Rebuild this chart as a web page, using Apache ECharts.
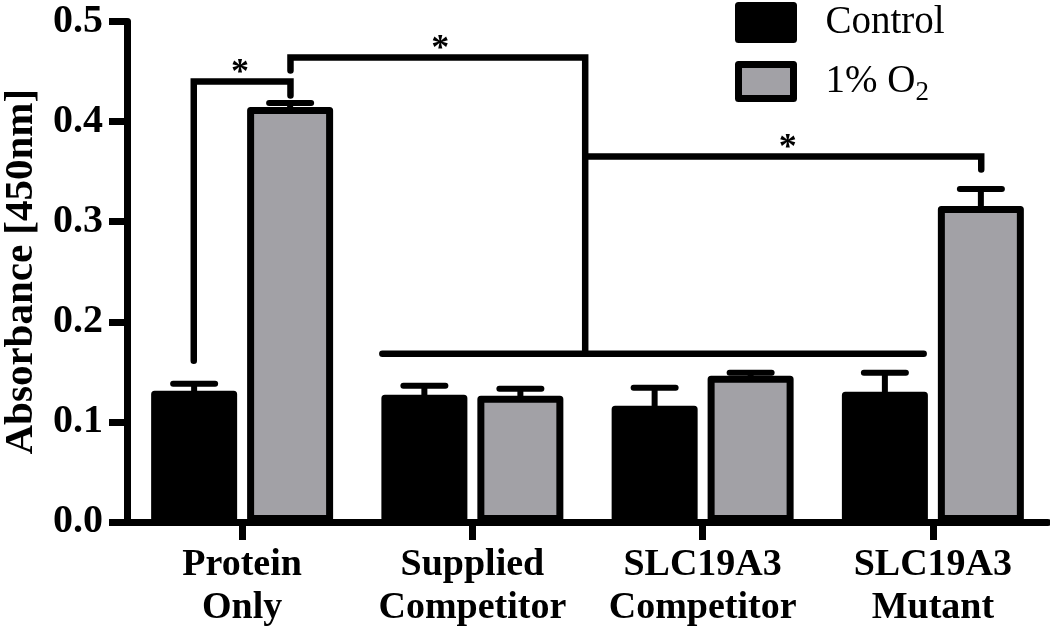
<!DOCTYPE html>
<html><head><meta charset="utf-8">
<script src="https://cdn.jsdelivr.net/npm/echarts@6/dist/echarts.min.js"></script>
<style>html,body{margin:0;padding:0;background:#fff}#c{width:1050px;height:630px}</style>
</head><body><div id="c"></div>
<script>
// ---- data ----
const categories = ['Protein\nOnly', 'Supplied\nCompetitor', 'SLC19A3\nCompetitor', 'SLC19A3\nMutant'];
const seriesNames = ['Control', '1% O2'];
const controlValues = [0.131, 0.127, 0.116, 0.130];
const controlErrors = [0.007, 0.009, 0.018, 0.019];
const hypoxiaValues = [0.4145, 0.126, 0.146, 0.3157];
const hypoxiaErrors = [0.004, 0.007, 0.003, 0.017];
const yMin = 0, yMax = 0.5, yInterval = 0.1;
const yAxisTitle = 'Absorbance [450nm]';
// significance brackets: points as [category position, absorbance]
const bracketPaths = [
  [[-0.21, 0.161], [-0.21, 0.440], [0.21, 0.440], [0.21, 0.426]],
  [[0.21, 0.451], [0.21, 0.464], [1.49, 0.464], [1.49, 0.168]],
  [[0.609, 0.168], [2.96, 0.168]],
  [[1.49, 0.365], [3.21, 0.365], [3.21, 0.352]]
];
const starMarks = [[-0.009, 0.4545], [0.861, 0.4785], [2.37, 0.3796]];

// ---- styling ----
const FONT = 'Liberation Serif';
const GRAY = '#a2a1a6';
const BAR_W = 86, BORDER = 7, GAP_PX = 10;
const HALF_STEP = (BAR_W + GAP_PX) / 2;

function errorRender(sign) {
  return function (params, api) {
    const i = api.value(0);
    const base = api.coord([i, api.value(1)]);
    const top = api.coord([i, api.value(1) + api.value(2)]);
    const x = base[0] + sign * HALF_STEP;
    return {
      type: 'group', children: [
        { type: 'line', shape: { x1: x, y1: base[1] + 4, x2: x, y2: top[1] }, style: { stroke: '#000', lineWidth: 6 } },
        { type: 'line', shape: { x1: x - 21, y1: top[1], x2: x + 21, y2: top[1] }, style: { stroke: '#000', lineWidth: 6, lineCap: 'round' } }
      ]
    };
  };
}

const chart = echarts.init(document.getElementById('c'), null, { renderer: 'canvas' });
const series = [
  {
    name: seriesNames[0], type: 'bar', data: controlValues, barWidth: BAR_W, barGap: (GAP_PX / BAR_W * 100).toFixed(1) + '%',
    itemStyle: { color: '#000', borderColor: '#000', borderWidth: BORDER, borderJoin: 'round' }, z: 3
  },
  {
    name: seriesNames[1], type: 'bar', data: hypoxiaValues, barWidth: BAR_W,
    itemStyle: { color: GRAY, borderColor: '#000', borderWidth: BORDER, borderJoin: 'round' }, z: 3
  },
  {
    type: 'custom', xAxisIndex: 0, renderItem: errorRender(-1), z: 2,
    data: controlValues.map((v, i) => [i, v, controlErrors[i]])
  },
  {
    type: 'custom', xAxisIndex: 0, renderItem: errorRender(1), z: 2,
    data: hypoxiaValues.map((v, i) => [i, v, hypoxiaErrors[i]])
  },
  {
    type: 'custom', xAxisIndex: 1, z: 5,
    renderItem: function (params, api) {
      const p = api.coord([api.value(0), api.value(1)]);
      return { type: 'text', style: { text: '*', x: p[0], y: p[1] + 7, fontSize: 36, fontWeight: 'bold', fontFamily: FONT, fill: '#000', align: 'center', verticalAlign: 'middle' } };
    },
    data: starMarks
  }
];
bracketPaths.forEach(path => {
  series.push({
    type: 'line', xAxisIndex: 1, data: path, symbol: 'none', silent: true, z: 4,
    lineStyle: { color: '#000', width: 6.5, cap: 'round', join: 'miter' }
  });
});

const legendText = { fontFamily: FONT, fontSize: 39, color: '#000', lineHeight: 34, padding: [0, 0, 0, 27] };
chart.setOption({
  animation: false,
  backgroundColor: '#fff',
  grid: { left: 127, right: 2, top: 21.4, bottom: 108, containLabel: false, outerBoundsMode: 'none' },
  legend: [
    {
      data: [{ name: seriesNames[0], itemStyle: { color: '#000', borderColor: '#000', borderWidth: BORDER } }],
      left: 735, top: 2, padding: 0, icon: 'rect', itemWidth: 55, itemHeight: 34, selectedMode: false,
      formatter: n => '{a|' + n + '}', textStyle: { rich: { a: legendText } }
    },
    {
      data: [{ name: seriesNames[1], itemStyle: { color: GRAY, borderColor: '#000', borderWidth: BORDER } }],
      left: 735, top: 61, padding: 0, icon: 'rect', itemWidth: 55, itemHeight: 34, selectedMode: false,
      formatter: () => '{a|1% O}{s|2}',
      textStyle: { rich: { a: legendText, s: { fontFamily: FONT, fontSize: 27, color: '#000', padding: [22, 0, 0, 0] } } }
    }
  ],
  xAxis: [
    {
      type: 'category', data: categories,
      axisLine: { show: true, onZero: false, lineStyle: { color: '#000', width: 7 } },
      axisTick: { show: true, alignWithLabel: true, length: 18, lineStyle: { color: '#000', width: 7 } },
      axisLabel: { interval: 0, fontFamily: FONT, fontWeight: 'bold', fontSize: 38, lineHeight: 43, color: '#000', margin: 22 },
      splitLine: { show: false }
    },
    { type: 'value', min: -0.5, max: 3.5, show: false }
  ],
  yAxis: {
    type: 'value', min: yMin, max: yMax, interval: yInterval,
    name: yAxisTitle, nameLocation: 'middle', nameGap: 85,
    nameTextStyle: { fontFamily: FONT, fontWeight: 'bold', fontSize: 41, color: '#000' },
    axisLine: { show: true, onZero: false, lineStyle: { color: '#000', width: 7 } },
    axisTick: { show: true, length: 18, lineStyle: { color: '#000', width: 7 } },
    axisLabel: { formatter: v => v.toFixed(1), fontFamily: FONT, fontWeight: 'bold', fontSize: 40, color: '#000', margin: 24 },
    splitLine: { show: false }
  },
  series: series
});
</script>
</body></html>
